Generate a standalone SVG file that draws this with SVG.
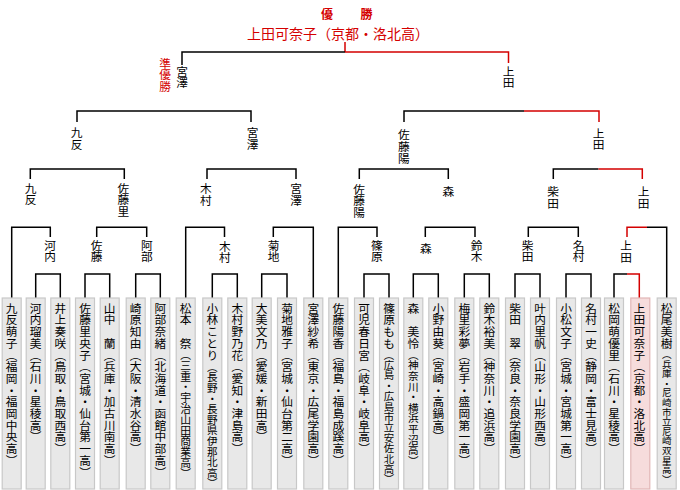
<svg xmlns="http://www.w3.org/2000/svg" width="680" height="490" viewBox="0 0 680 490">
<style>
.bg{fill:#fff}
.ln{fill:none;stroke:#000;stroke-width:1.5}
.rd{fill:none;stroke:#d40000;stroke-width:1.5}
.v{writing-mode:vertical-rl;font-family:"Noto Sans CJK JP","Noto Sans CJK SC",sans-serif;font-size:11.7px;fill:#000}
.vr{writing-mode:vertical-rl;font-family:"Noto Sans CJK JP","Noto Sans CJK SC",sans-serif;font-size:11.7px;fill:#d40000}
.box{fill:#e8e8e8;stroke:#c8c8c8;stroke-width:1.2}
.win{fill:#f6dcdc;stroke:#e2b6b6;stroke-width:1.2}
.t{font-family:"Noto Sans CJK JP","Noto Sans CJK SC",sans-serif;fill:#d40000}
</style>
<rect class="bg" x="0" y="0" width="680" height="490"/>
<g id="title">
<text class="t" x="321" y="19" font-size="12" font-weight="bold" letter-spacing="7.75">優　勝</text>
<text class="t" x="247" y="38.5" font-size="14">上田可奈子（京都・洛北高）</text>
</g>
<g id="connectors">
<path class="rd" d="M345 42V52"/>
<path class="ln" d="M182 65V52H345"/>
<path class="rd" d="M345 52H508.5V63"/>
<path class="ln" d="M77 122V111H251V122"/>
<path class="ln" d="M404 122V111H524"/>
<path class="rd" d="M524 111H599V122"/>
<path class="ln" d="M30.3 179V169H124.3V179"/>
<path class="ln" d="M207 179V169H296V179"/>
<path class="ln" d="M359.3 179V169H448.3V179"/>
<path class="ln" d="M553.3 179V169H598.5"/>
<path class="rd" d="M598.5 169H642.3V179"/>
<path class="ln" d="M11.7 298V227.3H50.3V237"/>
<path class="ln" d="M96.7 237V227.3H146.7V237"/>
<path class="ln" d="M185.7 298V227.3H224.5V237"/>
<path class="ln" d="M273.3 237V227.3H313.3V298"/>
<path class="ln" d="M338.3 298V227.3H377V237"/>
<path class="ln" d="M425.3 237V227.3H475V237"/>
<path class="ln" d="M528.3 237V227.3H578.3V237"/>
<path class="rd" d="M627 237V227.3H647"/>
<path class="ln" d="M647 227.3H666.7V298"/>
<path class="ln" d="M35.7 298V274H60.3V298"/>
<path class="ln" d="M85 298V274H109.7V298"/>
<path class="ln" d="M135.7 298V274H160.3V298"/>
<path class="ln" d="M212.3 298V274H237.3V298"/>
<path class="ln" d="M261.7 298V274H287V298"/>
<path class="ln" d="M364 298V274H389V298"/>
<path class="ln" d="M413.3 298V274H438.3V298"/>
<path class="ln" d="M464.3 298V274H489.3V298"/>
<path class="ln" d="M515 298V274H540V298"/>
<path class="ln" d="M566 298V274H591V298"/>
<path class="ln" d="M614 298V274H627"/>
<path class="rd" d="M627 274H639.3V298"/>
</g>
<g id="labels">
<text class="vr" x="165" y="57.5">準優勝</text>
<text class="v" x="182" y="65.5">宮澤</text>
<text class="v" x="508.5" y="65.5">上田</text>
<text class="v" x="76.7" y="127">九反</text>
<text class="v" x="252.5" y="127">宮澤</text>
<text class="v" x="403.8" y="129">佐藤陽</text>
<text class="v" x="598.7" y="127.5">上田</text>
<text class="v" x="30.5" y="182.5">九反</text>
<text class="v" x="123.3" y="182.5">佐藤里</text>
<text class="v" x="205.8" y="183">木村</text>
<text class="v" x="296" y="183">宮澤</text>
<text class="v" x="359" y="183.5">佐藤陽</text>
<text class="v" x="448.3" y="186">森</text>
<text class="v" x="553" y="186">柴田</text>
<text class="v" x="643.5" y="186">上田</text>
<text class="v" x="50.2" y="239.5">河内</text>
<text class="v" x="96.7" y="239.5">佐藤</text>
<text class="v" x="146.8" y="239.5">阿部</text>
<text class="v" x="224.8" y="240.5">木村</text>
<text class="v" x="273.5" y="239.5">菊地</text>
<text class="v" x="376.8" y="239.5">篠原</text>
<text class="v" x="425.8" y="242.5">森</text>
<text class="v" x="476.7" y="239.5">鈴木</text>
<text class="v" x="527.5" y="239.5">柴田</text>
<text class="v" x="578.5" y="239.5">名村</text>
<text class="v" x="626.2" y="240">上田</text>
</g>
<g id="p0"><rect class="box" x="2.2" y="298" width="19" height="191"/><text class="v" x="11.7" y="302.5">九反萌子（福岡・福岡中央高）</text></g>
<g id="p1"><rect class="box" x="26.2" y="298" width="19" height="191"/><text class="v" x="35.7" y="302.5">河内瑠美（石川・星稜高）</text></g>
<g id="p2"><rect class="box" x="50.8" y="298" width="19" height="191"/><text class="v" x="60.3" y="302.5">井上奏咲（鳥取・鳥取西高）</text></g>
<g id="p3"><rect class="box" x="75.5" y="298" width="19" height="191"/><text class="v" x="85" y="302.5">佐藤里央子（宮城・仙台第一高）</text></g>
<g id="p4"><rect class="box" x="100.2" y="298" width="19" height="191"/><text class="v" x="109.7" y="302.5">山中　蘭（兵庫・加古川南高）</text></g>
<g id="p5"><rect class="box" x="126.2" y="298" width="19" height="191"/><text class="v" x="135.7" y="302.5">崎原知由（大阪・清水谷高）</text></g>
<g id="p6"><rect class="box" x="150.8" y="298" width="19" height="191"/><text class="v" x="160.3" y="302.5">阿部奈緒（北海道・函館中部高）</text></g>
<g id="p7"><rect class="box" x="176.2" y="298" width="19" height="191"/><text class="v" x="185.7" y="302.5">松本　祭<tspan font-size="10.8px">（三重・宇治山田商業高）</tspan></text></g>
<g id="p8"><rect class="box" x="202.8" y="298" width="19" height="191"/><text class="v" x="212.3" y="302.5">小林ことり<tspan font-size="10.6px">（長野・長野県伊那北高）</tspan></text></g>
<g id="p9"><rect class="box" x="227.8" y="298" width="19" height="191"/><text class="v" x="237.3" y="302.5">木村野乃花（愛知・津島高）</text></g>
<g id="p10"><rect class="box" x="252.2" y="298" width="19" height="191"/><text class="v" x="261.7" y="302.5">大美文乃（愛媛・新田高）</text></g>
<g id="p11"><rect class="box" x="277.5" y="298" width="19" height="191"/><text class="v" x="287" y="302.5">菊地雅子（宮城・仙台第二高）</text></g>
<g id="p12"><rect class="box" x="303.8" y="298" width="19" height="191"/><text class="v" x="313.3" y="302.5">宮澤紗希（東京・広尾学園高）</text></g>
<g id="p13"><rect class="box" x="328.8" y="298" width="19" height="191"/><text class="v" x="338.3" y="302.5">佐藤陽香（福島・福島成蹊高）</text></g>
<g id="p14"><rect class="box" x="354.5" y="298" width="19" height="191"/><text class="v" x="364" y="302.5">可児春日宮（岐阜・岐阜高）</text></g>
<g id="p15"><rect class="box" x="379.5" y="298" width="19" height="191"/><text class="v" x="389" y="302.5">篠原もも<tspan font-size="10.4px">（広島・広島市立安佐北高）</tspan></text></g>
<g id="p16"><rect class="box" x="403.8" y="298" width="19" height="191"/><text class="v" x="413.3" y="302.5">森　美怜<tspan font-size="10.6px">（神奈川・横浜平沼高）</tspan></text></g>
<g id="p17"><rect class="box" x="428.8" y="298" width="19" height="191"/><text class="v" x="438.3" y="302.5">小野由葵（宮崎・高鍋高）</text></g>
<g id="p18"><rect class="box" x="454.8" y="298" width="19" height="191"/><text class="v" x="464.3" y="302.5">梅里彩夢（岩手・盛岡第一高）</text></g>
<g id="p19"><rect class="box" x="479.8" y="298" width="19" height="191"/><text class="v" x="489.3" y="302.5">鈴木裕美（神奈川・追浜高）</text></g>
<g id="p20"><rect class="box" x="505.5" y="298" width="19" height="191"/><text class="v" x="515" y="302.5">柴田　翠（奈良・奈良学園高）</text></g>
<g id="p21"><rect class="box" x="530.5" y="298" width="19" height="191"/><text class="v" x="540" y="302.5">叶内里帆（山形・山形西高）</text></g>
<g id="p22"><rect class="box" x="556.5" y="298" width="19" height="191"/><text class="v" x="566" y="302.5">小松文子（宮城・宮城第一高）</text></g>
<g id="p23"><rect class="box" x="581.5" y="298" width="19" height="191"/><text class="v" x="591" y="302.5">名村一史（静岡・富士見高）</text></g>
<g id="p24"><rect class="box" x="604.5" y="298" width="19" height="191"/><text class="v" x="614" y="302.5">松岡萌優里（石川・星稜高）</text></g>
<g id="p25"><rect class="win" x="630.8" y="298" width="19" height="191"/><text class="v" x="639.3" y="302.5">上田可奈子（京都・洛北高）</text></g>
<g id="p26"><rect class="box" x="657.2" y="298" width="19" height="191"/><text class="v" x="666.7" y="302.5">松尾美樹<tspan font-size="9.6px">（兵庫・尼崎市立尼崎双星高）</tspan></text></g>
</svg>
